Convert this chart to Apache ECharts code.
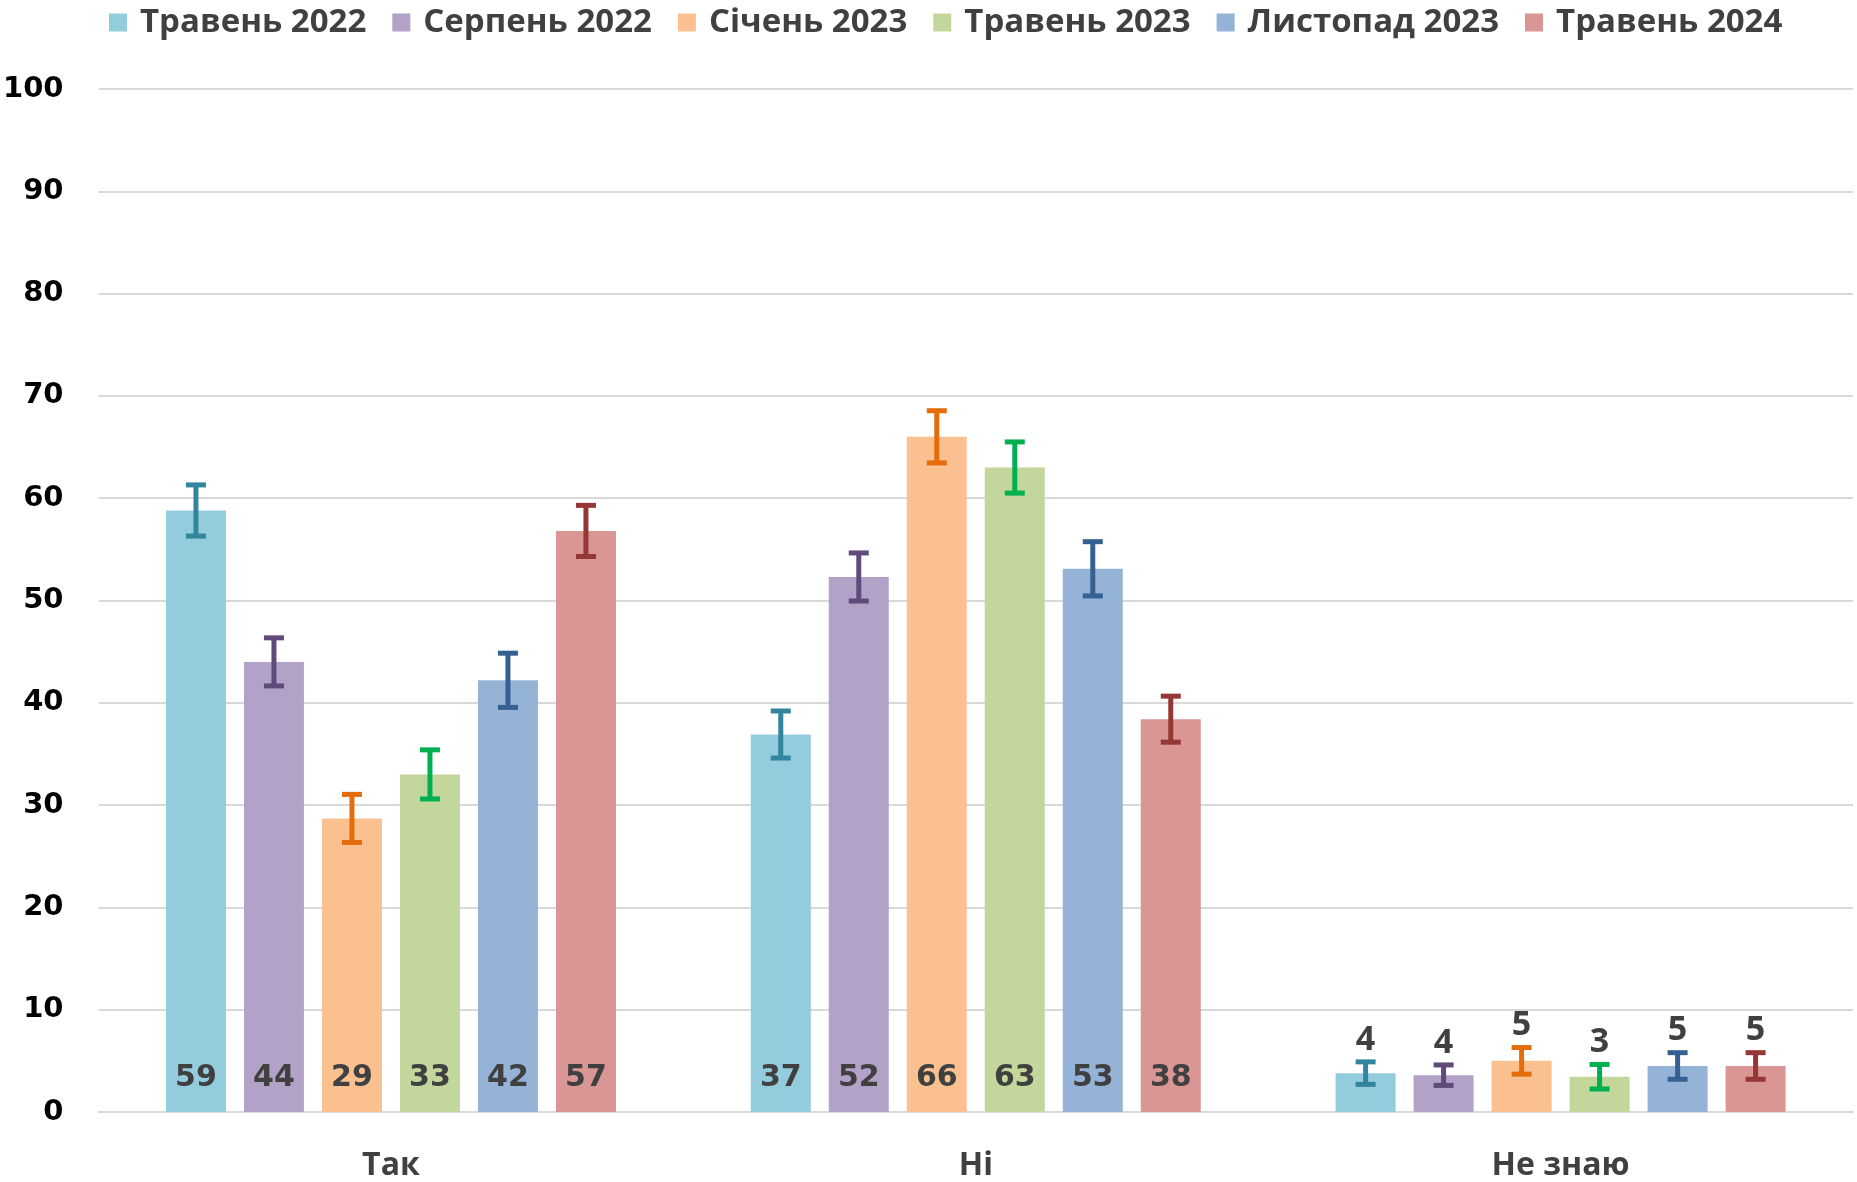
<!DOCTYPE html>
<html>
<head>
<meta charset="utf-8">
<script src="https://cdn.jsdelivr.net/npm/echarts@6/dist/echarts.min.js"></script>
<style>
html,body{margin:0;padding:0;background:#fff;}
#chart{width:1857px;height:1182px;}
</style>
</head>
<body>
<div id="chart"></div>
<script>
// ---- data ----
const categories = ['Так', 'Ні', 'Не знаю'];
const seriesNames = ['Травень 2022', 'Серпень 2022', 'Січень 2023', 'Травень 2023', 'Листопад 2023', 'Травень 2024'];
const may2022 = [58.8, 36.9, 3.8];
const aug2022 = [44.0, 52.3, 3.6];
const jan2023 = [28.7, 66.0, 5.0];
const may2023 = [33.0, 63.0, 3.45];
const nov2023 = [42.2, 53.1, 4.5];
const may2024 = [56.8, 38.4, 4.5];
// error bar half-widths (percentage points)
const errMay2022 = [2.5, 2.3, 1.1];
const errAug2022 = [2.35, 2.35, 1.0];
const errJan2023 = [2.35, 2.55, 1.3];
const errMay2023 = [2.4, 2.5, 1.2];
const errNov2023 = [2.65, 2.65, 1.3];
const errMay2024 = [2.5, 2.25, 1.3];
const yTicks = [0, 10, 20, 30, 40, 50, 60, 70, 80, 90, 100];

// ---- styles ----
const barColors = ['#93CDDD', '#B3A2C7', '#FAC090', '#C3D69B', '#95B3D7', '#D99694'];
const errColors = ['#31859C', '#604A7B', '#E46C0A', '#00B050', '#376092', '#953735'];
const values = [may2022, aug2022, jan2023, may2023, nov2023, may2024];
const errors = [errMay2022, errAug2022, errJan2023, errMay2023, errNov2023, errMay2024];
const BAR_W = 60, BAR_GAP = 0.3;
const TEXT = '#404040';

const series = [];
values.forEach((vals, si) => {
  series.push({
    name: seriesNames[si],
    type: 'bar',
    barWidth: BAR_W,
    barGap: (BAR_GAP * 100) + '%',
    itemStyle: { color: barColors[si] },
    data: vals,
    label: {
      show: true,
      position: 'insideBottom',
      distance: 19,
      formatter: p => p.dataIndex === 2 ? '' : String(Math.round(p.value)),
      fontFamily: 'DejaVu Sans',
      fontWeight: 'bold',
      fontSize: 30,
      color: TEXT
    },
    emphasis: { disabled: true }
  });
});
values.forEach((vals, si) => {
  series.push({
    name: seriesNames[si],
    type: 'custom',
    z: 5,
    data: vals.map((v, ci) => [ci, v, errors[si][ci]]),
    renderItem: function (params, api) {
      const ci = api.value(0), v = api.value(1), e = api.value(2);
      const c = api.coord([ci, v]);
      const x = c[0] + (si - 2.5) * BAR_W * (1 + BAR_GAP);
      const yTop = api.coord([ci, v + e])[1];
      const yBot = api.coord([ci, v - e])[1];
      const hw = 10;
      const st = { stroke: errColors[si], lineWidth: 5 };
      const children = [
        { type: 'line', shape: { x1: x, y1: yTop, x2: x, y2: yBot }, style: st },
        { type: 'line', shape: { x1: x - hw, y1: yTop, x2: x + hw, y2: yTop }, style: st },
        { type: 'line', shape: { x1: x - hw, y1: yBot, x2: x + hw, y2: yBot }, style: st }
      ];
      if (ci === 2) {
        children.push({
          type: 'text',
          style: {
            text: String(Math.round(v)),
            x: x, y: yTop - 5,
            align: 'center', verticalAlign: 'bottom',
            fontFamily: 'Open Sans', fontWeight: 'bold', fontSize: 34,
            fill: TEXT
          }
        });
      }
      return { type: 'group', children: children };
    }
  });
});

const chart = echarts.init(document.getElementById('chart'), null, { renderer: 'canvas' });
chart.setOption({
  backgroundColor: '#ffffff',
  animation: false,
  legend: {
    data: seriesNames,
    left: 104,
    top: 1,
    itemWidth: 18,
    itemHeight: 18,
    itemGap: 26,
    icon: 'rect',
    textStyle: { fontFamily: 'Open Sans', fontWeight: 'bold', fontSize: 33, color: TEXT, padding: [0, 0, 0, 8] }
  },
  grid: { left: 98, right: 4, top: 89, bottom: 69, containLabel: false },
  xAxis: {
    type: 'category',
    data: categories,
    axisTick: { show: false },
    axisLine: { show: true, lineStyle: { color: '#D9D9D9', width: 2 } },
    axisLabel: { margin: 38, fontFamily: 'Open Sans', fontWeight: 'bold', fontSize: 32, color: TEXT }
  },
  yAxis: {
    type: 'value',
    min: yTicks[0],
    max: yTicks[yTicks.length - 1],
    interval: yTicks[1] - yTicks[0],
    axisLine: { show: false },
    axisTick: { show: false },
    splitLine: { lineStyle: { color: '#D9D9D9', width: 2 } },
    axisLabel: { margin: 35, fontFamily: 'DejaVu Sans', fontWeight: 'bold', fontSize: 29, color: '#000' }
  },
  series: series
});
</script>
</body>
</html>
